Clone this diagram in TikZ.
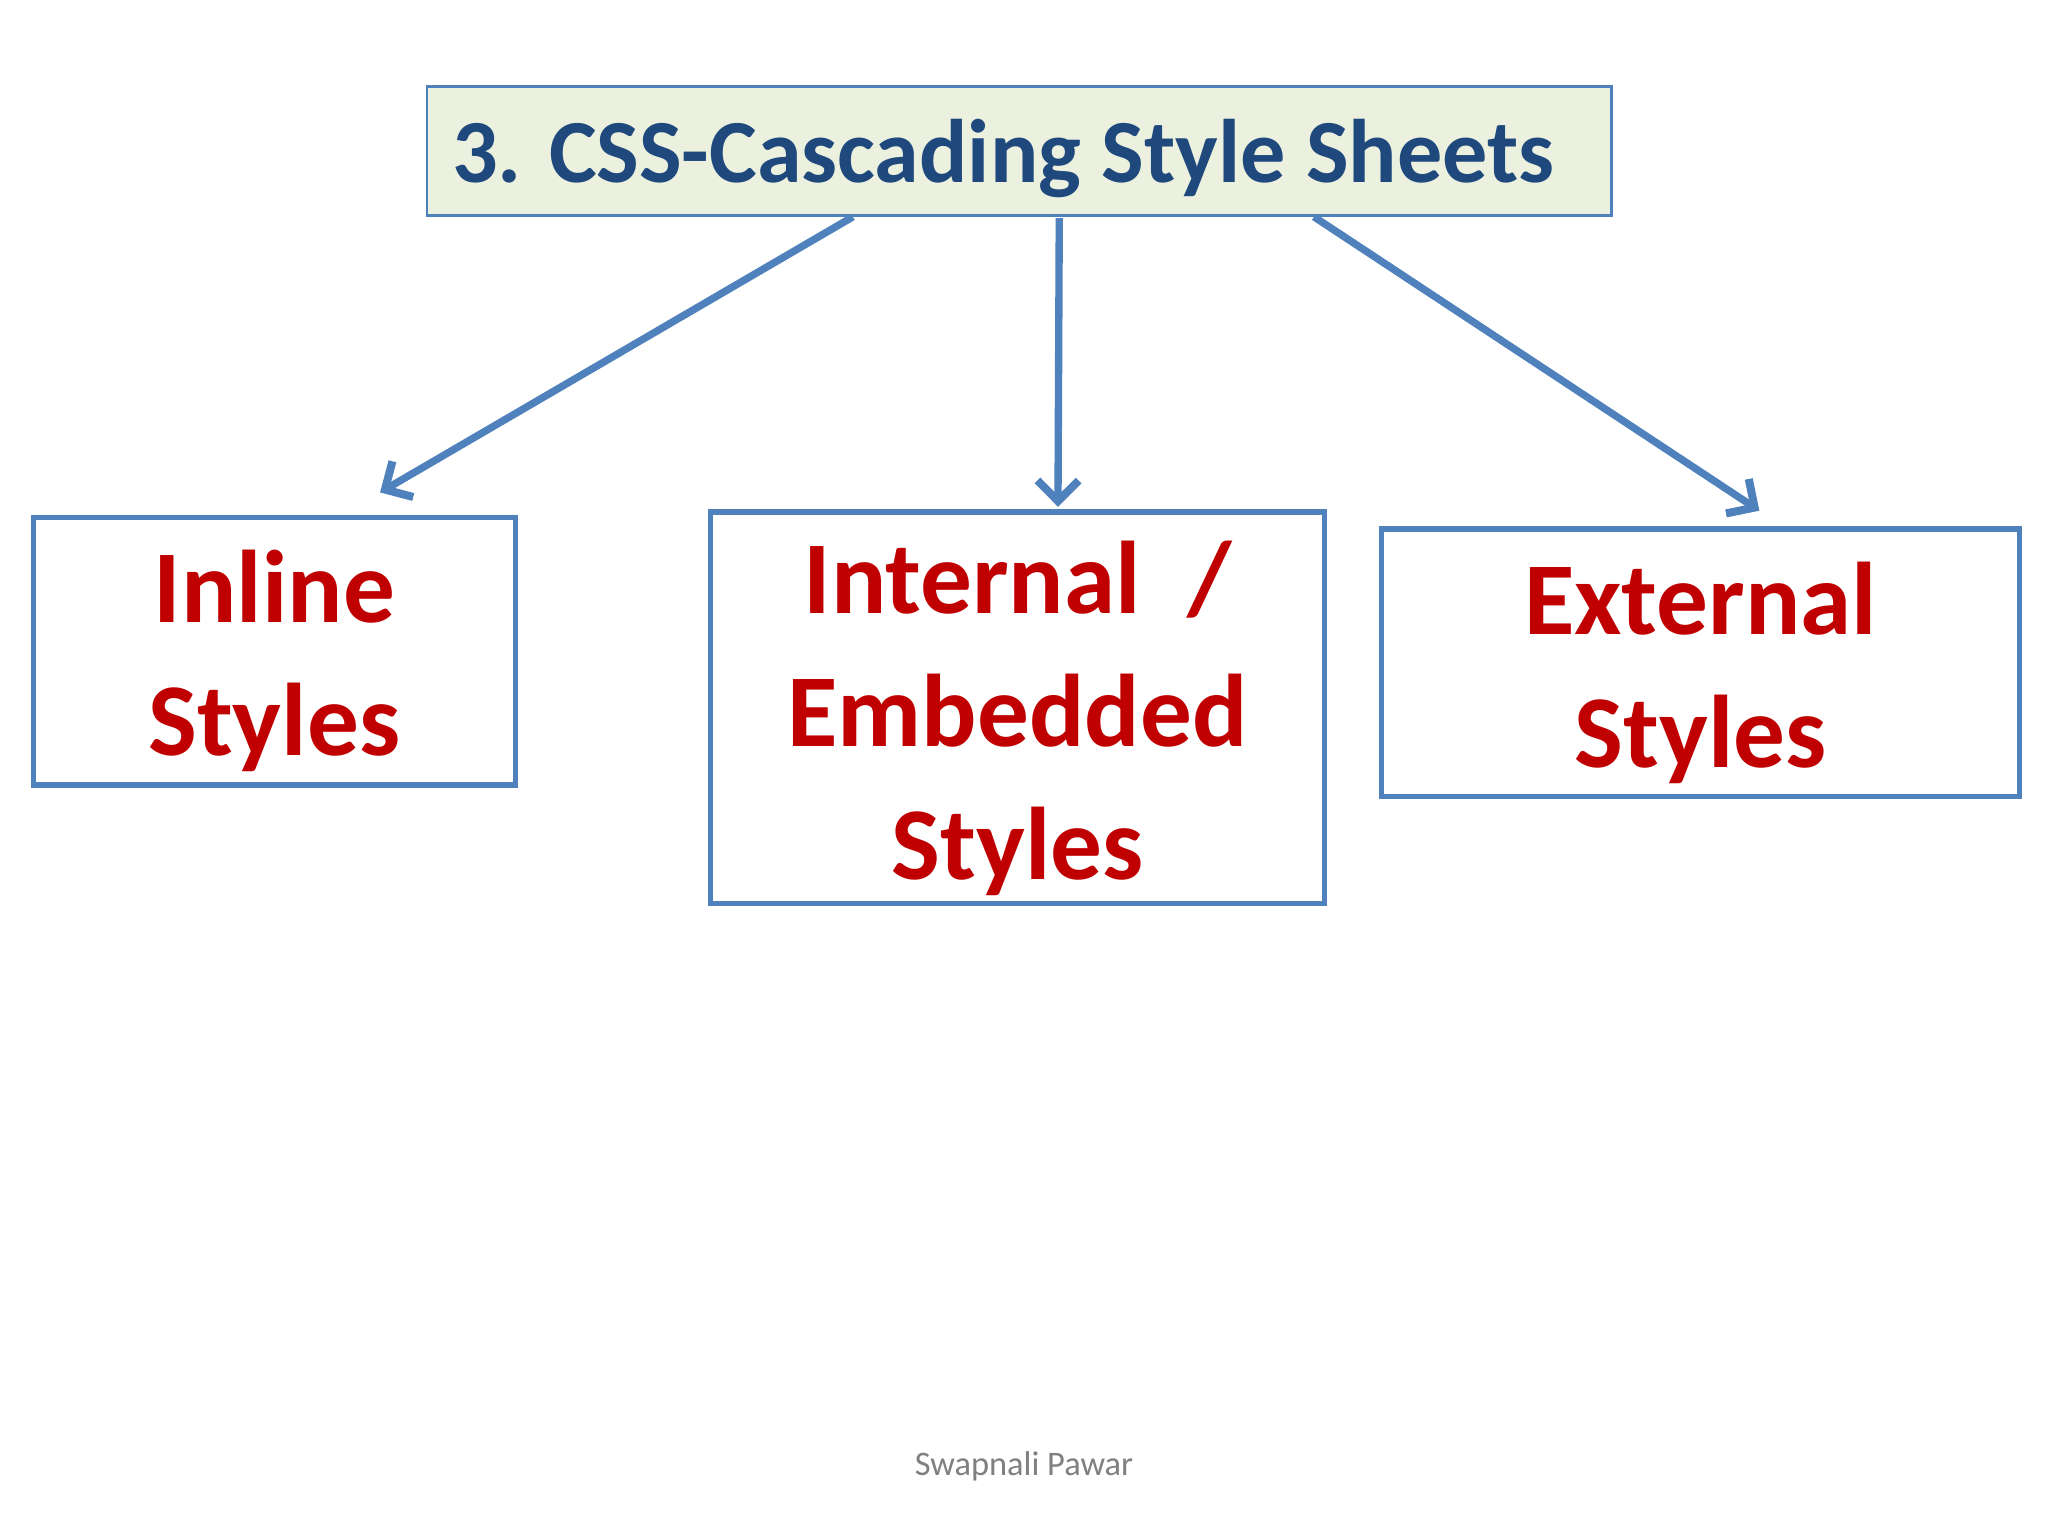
\documentclass[tikz,border=0pt]{standalone}
\usepackage{fontspec}
\setmainfont{Carlito}
\usetikzlibrary{arrows.meta}
\definecolor{bl}{HTML}{4F81BD}
\definecolor{ttl}{HTML}{1F497D}
\definecolor{rd}{HTML}{C00000}
\definecolor{gbg}{HTML}{EBF1DE}
\tikzset{
 box/.style={draw=bl,line width=2.2pt,fill=white},
 lbl/.style={text=rd,font=\fontsize{45}{58}\selectfont\bfseries,align=center},
 arr/.style={draw=bl,line width=3.2pt,-{Straight Barb[length=9pt,width=18pt,line width=3.5pt]}}
}
\begin{document}
\begin{tikzpicture}[x=0.02cm,y=-0.02cm]
\useasboundingbox (0,0) rectangle (1568,1176);
\fill[white] (0,0) rectangle (1568,1176);
\draw[draw=bl,line width=1.2pt,fill=gbg] (327,66) rectangle (1234,165);
\node[anchor=west,text=ttl,font=\fontsize{39.3}{47}\selectfont\bfseries] (title) at (340,121) {3. CSS-Cascading Style Sheets};
\draw[box] (26,396) rectangle (395,601);
\node[lbl] (inl) at (210,506) {Inline\\Styles};
\draw[box] (544,392) rectangle (1014,692);
\node[lbl] (int) at (779,550) {Internal~~/\\Embedded\\Styles};
\draw[box] (1058,405) rectangle (1546,610);
\node[lbl] (ext) at (1302,515) {External\\Styles};
\coordinate (s1) at (653,166); \coordinate (e1) at (291,377);
\coordinate (s2) at (811,167); \coordinate (e2) at (810,388);
\coordinate (s3) at (1006,166); \coordinate (e3) at (1347,391);
\draw[arr] (s1) -- (e1);
\draw[arr] (s2) -- (e2);
\draw[arr] (s3) -- (e3);
\node[text=gray,font=\fontsize{15}{17}\selectfont] (foot) at (784,1123) {Swapnali Pawar};
\end{tikzpicture}
\end{document}
